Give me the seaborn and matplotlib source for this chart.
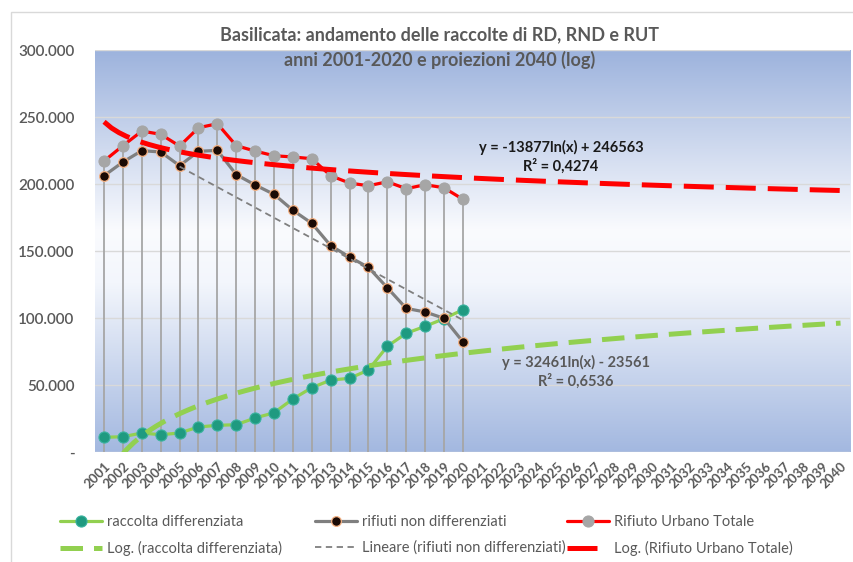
import numpy as np
import pandas as pd
import seaborn as sns
import matplotlib.pyplot as plt
from matplotlib.colors import LinearSegmentedColormap
from matplotlib.patches import Rectangle

# years on the category axis (data 2001-2020, projection up to 2040)
years = list(range(2001, 2041))
data_years = list(range(2001, 2021))

raccolta_diff = [11000, 11400, 14200, 12900, 14200, 18700, 19900, 20400, 25400, 29300,
                 39600, 48000, 53700, 55000, 61200, 78900, 88600, 93800, 99500, 106200]
rifiuti_non_diff = [206200, 216400, 224900, 223900, 213700, 224400, 225100, 207000, 199300, 192300,
                    180400, 170700, 154000, 145500, 137800, 122600, 107200, 104500, 99800, 82300]
rifiuto_totale = [217200, 228600, 239500, 237100, 228300, 242000, 245000, 228600, 224600, 221100,
                  220200, 218900, 206200, 200700, 198700, 201700, 196500, 199500, 197200, 188600]

# linear trend of the non-differentiated waste as drawn (start / end)
lin_years = [2005, 2020]
lin_values = [213000, 98500]

ytick_values = [0, 50000, 100000, 150000, 200000, 250000, 300000]
ytick_labels = ['-', '50.000', '100.000', '150.000', '200.000', '250.000', '300.000']

title1 = 'Basilicata: andamento delle raccolte di RD, RND e RUT'
title2 = 'anni 2001-2020 e proiezioni 2040 (log)'
eq_rut = 'y = -13877ln(x) + 246563\nR² = 0,4274'
eq_rd = 'y = 32461ln(x) - 23561\nR² = 0,6536'

GREEN = '#92d050'
TEAL = '#1f9a80'
GREY = '#7f7f7f'
RED = '#ff0000'
TXT = '#595959'

sns.set_style('white')
plt.rcParams['font.family'] = ['Lato', 'DejaVu Sans']

df = pd.DataFrame({
    'n': [y - 2000 for y in data_years],
    'rd': raccolta_diff,
    'rnd': rifiuti_non_diff,
    'rut': rifiuto_totale,
})

fig = plt.figure(figsize=(8.54, 5.62), dpi=100)
ax = fig.add_axes([0.1108, 0.1957, 0.8845, 0.7153])

# plot area gradient blue -> white -> blue
bg = LinearSegmentedColormap.from_list('bg', [(0, '#9db3dd'), (0.45, '#fafbfe'),
                                              (0.58, '#f3f6fc'), (1, '#a3b8e0')])
grad = np.linspace(0, 1, 256).reshape(-1, 1)
ax.imshow(grad, extent=[0.5, 40.5, 0, 300000], aspect='auto', cmap=bg, origin='upper', zorder=0)
ax.yaxis.grid(True, color='#d9d9d9', lw=1)
ax.set_axisbelow(True)

# drop lines
ax.vlines(df['n'], 0, df['rut'], color='#a6a6a6', lw=1.3, zorder=1)

sns.lineplot(data=df, x='n', y='rd', ax=ax, color=GREEN, lw=2.3, marker='o', markersize=8,
             markerfacecolor=TEAL, markeredgecolor='#3bb3a0', markeredgewidth=0.8,
             label='raccolta differenziata', zorder=3, legend=False)
sns.lineplot(data=df, x='n', y='rnd', ax=ax, color=GREY, lw=2.3, marker='o', markersize=7,
             markerfacecolor='#1a0a05', markeredgecolor='#f4b183', markeredgewidth=0.9,
             label='rifiuti non differenziati', zorder=3, legend=False)
sns.lineplot(data=df, x='n', y='rut', ax=ax, color=RED, lw=2.3, marker='o', markersize=8,
             markerfacecolor='#a6a6a6', markeredgecolor='#a6a6a6',
             label='Rifiuto Urbano Totale', zorder=3, legend=False)

# trend lines (Excel style log fits extended to 2040)
ax.set_xlim(1, 40)
sns.regplot(data=df, x='n', y='rd', logx=True, scatter=False, ci=None, truncate=False, ax=ax,
            color=GREEN, label='Log. (raccolta differenziata)',
            line_kws=dict(linewidth=3.6, dashes=(4.5, 2.2), dash_capstyle='butt', zorder=4))
sns.lineplot(x=[y - 2000 for y in lin_years], y=lin_values, ax=ax, color=GREY, lw=1.3,
             linestyle=(0, (3.5, 2.5)), label='Lineare (rifiuti non differenziati)', zorder=4,
             legend=False)
sns.regplot(data=df, x='n', y='rut', logx=True, scatter=False, ci=None, truncate=False, ax=ax,
            color=RED, label='Log. (Rifiuto Urbano Totale)',
            line_kws=dict(linewidth=3.6, dashes=(6, 2.4), dash_capstyle='butt', zorder=4))

ax.set_xlim(0.5, 40.5)
ax.set_ylim(0, 300000)
ax.set_xticks(range(1, 41))
ax.set_xticklabels([str(y) for y in years], rotation=45, ha='right', rotation_mode='anchor',
                   fontsize=9.5, color=TXT, fontweight='bold')
ax.set_yticks(ytick_values)
ax.set_yticklabels(ytick_labels, fontsize=11, color=TXT, fontweight='semibold')
ax.tick_params(axis='y', length=0, pad=14.5)
ax.tick_params(axis='x', length=0, pad=6)
ax.set_xlabel('')
ax.set_ylabel('')
for s in ax.spines.values():
    s.set_visible(False)

ax.text(25.2, 220000, eq_rut, ha='center', va='center', fontsize=10.5, fontweight='bold',
        color='#1a1a1a', linespacing=1.3, zorder=5)
ax.text(26.0, 59500, eq_rd, ha='center', va='center', fontsize=10.5, fontweight='bold',
        color=TXT, linespacing=1.3, zorder=5)

fig.text(440 / 854, 1 - 35 / 562, title1, ha='center', va='center', fontsize=13,
         fontweight='bold', color=TXT)
fig.text(440 / 854, 1 - 60 / 562, title2, ha='center', va='center', fontsize=13,
         fontweight='bold', color=TXT)

fig.patches.append(Rectangle((11 / 854, -0.05), 1, 1.05 - 12 / 562, transform=fig.transFigure,
                             fill=False, edgecolor='#d9d9d9', lw=1))

handles, labels = ax.get_legend_handles_labels()
h = dict(zip(labels, handles))
cols = [
    (60, ['raccolta differenziata', 'Log. (raccolta differenziata)']),
    (315, ['rifiuti non differenziati', 'Lineare (rifiuti non differenziati)']),
    (567, ['Rifiuto Urbano Totale', 'Log. (Rifiuto Urbano Totale)']),
]
for x0, labs in cols:
    fig.legend([h[l] for l in labs], labs, loc='upper left',
               bbox_to_anchor=(x0 / 854, 1 - 515 / 562), frameon=False, fontsize=10.5,
               labelcolor=TXT, handlelength=2.9, handletextpad=0.3, borderpad=0,
               borderaxespad=0, labelspacing=0.8)

fig.savefig('out.png', dpi=100)
